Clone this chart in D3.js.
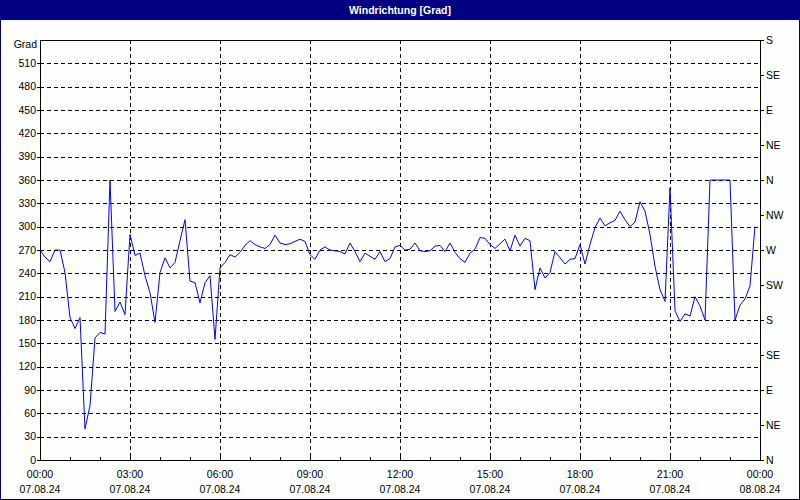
<!DOCTYPE html>
<html><head><meta charset="utf-8">
<script src="https://cdn.jsdelivr.net/npm/d3@7"></script>
<style>
html,body{margin:0;padding:0;background:#fff;}
svg{display:block;}
text{font-family:"Liberation Sans Narrow","Arial Narrow","Liberation Sans",sans-serif;font-size:10.5px;fill:#000;}
</style></head>
<body>
<script>
// ---- data ----
const title = "Windrichtung [Grad]";
const unitLabel = "Grad";
const startTime = "2024-08-07T00:00:00";
const endTime = "2024-08-08T00:00:00";
const stepMinutes = 10;
const values = [
 270,261,255,270,270,241,183,169,183,40,70,157,164,162,360,191,203,187,290,263,
 266,237,215,177,241,260,247,254,282,309,230,228,202,228,237,155,247,254,264,261,
 267,276,282,277,274,272,277,289,279,277,278,281,284,281,264,258,270,274,270,269,
 268,265,279,268,255,266,262,258,268,255,259,274,276,270,271,279,269,268,269,275,
 276,268,279,267,259,254,266,271,286,285,277,272,278,284,269,289,275,285,282,219,
 247,234,241,268,260,252,258,259,277,252,277,299,311,301,305,308,320,309,300,306,
 332,320,290,249,219,204,350,192,178,188,185,210,198,180,360,360,360,360,360,180,
 199,207,224,300
];
const yTicks = [0,30,60,90,120,150,180,210,240,270,300,330,360,390,420,450,480,510];
const dirTicks = [0,45,90,135,180,225,270,315,360,405,450,495,540];
const dirLabels = ["N","NE","E","SE","S","SW","W","NW","N","NE","E","SE","S"];
const xTickLabels = [
 ["00:00","07.08.24"],["03:00","07.08.24"],["06:00","07.08.24"],["09:00","07.08.24"],
 ["12:00","07.08.24"],["15:00","07.08.24"],["18:00","07.08.24"],["21:00","07.08.24"],
 ["00:00","08.08.24"]
];

// ---- chart ----
const W = 800, H = 500;
const L = 40, R = 760, T = 40, B = 460;
const t0 = new Date(startTime), t1 = new Date(endTime);
const x = d3.scaleTime().domain([t0, t1]).range([L, R]);
const y = d3.scaleLinear().domain([0, 540]).range([B, T]);
const points = values.map((v, i) => ({t: d3.timeMinute.offset(t0, i * stepMinutes), v}));
const majorTimes = d3.timeHour.every(3).range(t0, d3.timeMinute.offset(t1, 1));
const hourTimes = d3.timeHour.every(1).range(t0, d3.timeMinute.offset(t1, 1));

const svg = d3.select("body").append("svg").attr("width", W).attr("height", H);
svg.append("rect").attr("x",0).attr("y",0).attr("width",W).attr("height",H).attr("fill","#fcfffc");
svg.append("rect").attr("x",0.5).attr("y",0.5).attr("width",W-1).attr("height",H-1)
  .attr("fill","none").attr("stroke","#000080");
svg.append("rect").attr("x",0).attr("y",0).attr("width",W).attr("height",20).attr("fill","#000080");
svg.append("text").attr("x",W/2).attr("y",10).attr("text-anchor","middle").attr("dy","0.35em")
  .style("fill","#fff").style("font-weight","bold").style("font-size","10.5px").text(title);

const g = svg.append("g").attr("shape-rendering","crispEdges");
// horizontal grid
g.selectAll("line.hg").data(yTicks.filter(v => v > 0)).join("line")
  .attr("x1", L).attr("x2", R)
  .attr("y1", d => Math.round(y(d)) + 0.5).attr("y2", d => Math.round(y(d)) + 0.5)
  .attr("stroke","#000").attr("stroke-dasharray","4,3");
// vertical grid
g.selectAll("line.vg").data(majorTimes.slice(1, -1)).join("line")
  .attr("y1", T).attr("y2", B)
  .attr("x1", d => Math.round(x(d)) + 0.5).attr("x2", d => Math.round(x(d)) + 0.5)
  .attr("stroke","#000").attr("stroke-dasharray","4,3");
// hour minor ticks
g.selectAll("line.ht").data(hourTimes).join("line")
  .attr("x1", d => Math.round(x(d)) + 0.5).attr("x2", d => Math.round(x(d)) + 0.5)
  .attr("y1", B - 3).attr("y2", B).attr("stroke","#000");
// left ticks
g.selectAll("line.lt").data(yTicks).join("line")
  .attr("x1", L - 3).attr("x2", L)
  .attr("y1", d => Math.round(y(d)) + 0.5).attr("y2", d => Math.round(y(d)) + 0.5).attr("stroke","#000");
// right ticks
g.selectAll("line.rt").data(dirTicks).join("line")
  .attr("x1", R).attr("x2", R + 4)
  .attr("y1", d => Math.round(y(d)) + 0.5).attr("y2", d => Math.round(y(d)) + 0.5).attr("stroke","#000");
// frame
g.append("rect").attr("x", L + 0.5).attr("y", T + 0.5).attr("width", R - L).attr("height", B - T)
  .attr("fill","none").attr("stroke","#000");

// line
const line = d3.line().x(d => x(d.t)).y(d => y(d.v));
svg.append("path").datum(points).attr("d", line).attr("fill","none")
  .attr("stroke","#0000ff").attr("stroke-width",1);

// left labels
svg.selectAll("text.yl").data(yTicks).join("text")
  .attr("x", L - 4).attr("y", d => y(d)).attr("dy","0.35em").attr("text-anchor","end").text(d => d);
svg.append("text").attr("x", L - 3).attr("y", T + 4).attr("dy","0.35em").attr("text-anchor","end").text(unitLabel);
// right labels
svg.selectAll("text.dl").data(dirTicks).join("text")
  .attr("x", R + 6).attr("y", d => y(d)).attr("dy","0.35em").attr("text-anchor","start")
  .text((d, i) => dirLabels[i]);
// x labels
const xl = svg.selectAll("g.xl").data(majorTimes).join("g")
  .attr("transform", d => `translate(${x(d)},0)`);
xl.append("text").attr("y", 474).attr("dy","0.35em").attr("text-anchor","middle").text((d,i) => xTickLabels[i][0]);
xl.append("text").attr("y", 489).attr("dy","0.35em").attr("text-anchor","middle").text((d,i) => xTickLabels[i][1]);
</script>
</body></html>
